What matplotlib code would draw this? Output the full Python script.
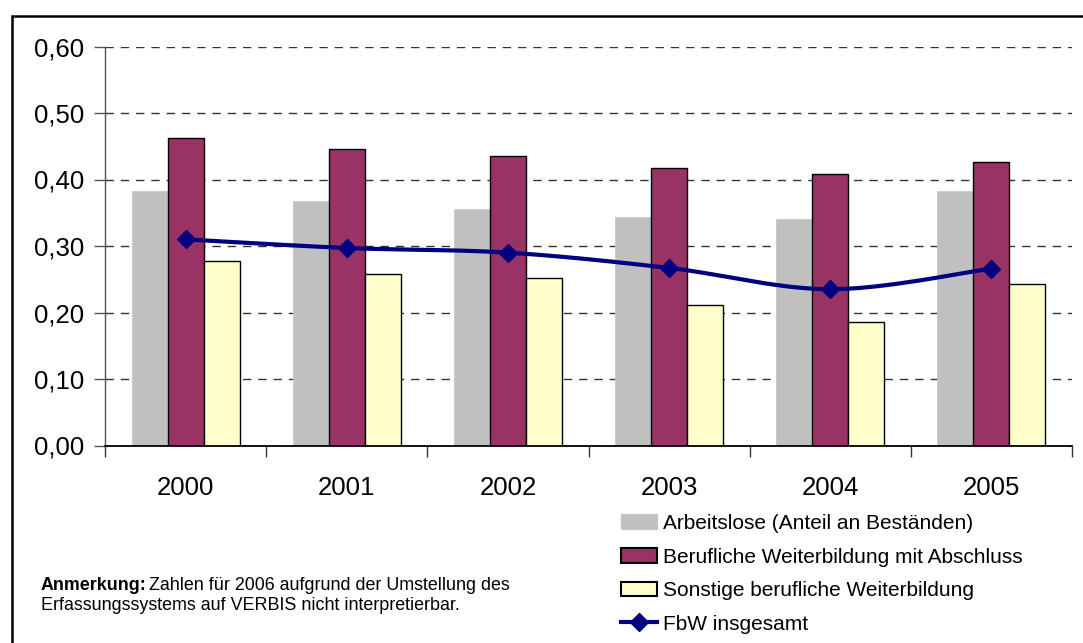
import numpy as np
import matplotlib
matplotlib.use('Agg')
import matplotlib.pyplot as plt
from matplotlib.patches import Rectangle, Patch
from matplotlib.lines import Line2D

plt.rcParams['font.family'] = ['Liberation Sans', 'DejaVu Sans']

years = ['2000', '2001', '2002', '2003', '2004', '2005']
arbeitslose = [0.383, 0.367, 0.355, 0.343, 0.340, 0.382]
mit_abschluss = [0.462, 0.446, 0.436, 0.418, 0.409, 0.426]
sonstige = [0.277, 0.258, 0.252, 0.211, 0.185, 0.243]
fbw_insgesamt = [0.310, 0.297, 0.290, 0.267, 0.235, 0.266]
yticks = [0.0, 0.1, 0.2, 0.3, 0.4, 0.5, 0.6]
legend_labels = ['Arbeitslose (Anteil an Beständen)',
                 'Berufliche Weiterbildung mit Abschluss',
                 'Sonstige berufliche Weiterbildung',
                 'FbW insgesamt']

W, H = 1083, 643
fig = plt.figure(figsize=(W / 100, H / 100), dpi=100)
ax = fig.add_axes([105 / W, 1 - 445.5 / H, (1072 - 105) / W, (445.5 - 46.5) / H])

x = np.arange(len(years))
bw = 36 / 161.2
ax.bar(x - bw, arbeitslose, bw, color='#C0C0C0', edgecolor='#C8C8C8', linewidth=0.6, zorder=2)
ax.bar(x, mit_abschluss, bw, color='#993366', edgecolor='black', linewidth=1.0, zorder=2)
ax.bar(x + bw, sonstige, bw, color='#FFFFCC', edgecolor='black', linewidth=1.0, zorder=2)


def smooth(xs, ys, n=30):
    xs = np.asarray(xs, float)
    ys = np.asarray(ys, float)
    px = np.concatenate([[xs[0]], xs, [xs[-1]]])
    py = np.concatenate([[ys[0]], ys, [ys[-1]]])
    outx, outy = [], []
    t = np.linspace(0, 1, n)
    for i in range(1, len(px) - 2):
        p0, p1, p2, p3 = (np.array([px[j], py[j]]) for j in (i - 1, i, i + 1, i + 2))
        c1 = p1 + (p2 - p0) / 6
        c2 = p2 - (p3 - p1) / 6
        pts = ((1 - t) ** 3)[:, None] * p1 + (3 * (1 - t) ** 2 * t)[:, None] * c1 + \
              (3 * (1 - t) * t ** 2)[:, None] * c2 + (t ** 3)[:, None] * p2
        outx.extend(pts[:, 0])
        outy.extend(pts[:, 1])
    return outx, outy


sx, sy = smooth(x, fbw_insgesamt)
ax.plot(sx, sy, color='#000080', lw=3.0, zorder=3, solid_capstyle='round')
ax.plot(x, fbw_insgesamt, linestyle='none', marker='D', ms=9.5, color='#000080', zorder=4)

ax.set_xlim(-0.5, len(years) - 0.5)
ax.set_ylim(0, 0.6)
ax.set_yticks(yticks)
ax.set_yticklabels([f'{v:.2f}'.replace('.', ',') for v in yticks])
ax.set_xticks(np.arange(-0.5, len(years), 1.0))
ax.set_xticklabels([])
ax.set_xticks(x, minor=True)
ax.set_xticklabels(years, minor=True)
ax.tick_params(axis='x', which='minor', length=0, pad=22, labelsize=18.5)
ax.tick_params(axis='x', which='major', length=8, width=1, color='#333333')
ax.tick_params(axis='y', length=8, width=1, color='#555555', labelsize=18.5, pad=7)

for s in ('top', 'right'):
    ax.spines[s].set_visible(False)
ax.spines['left'].set_color('#555555')
ax.spines['left'].set_linewidth(1.0)
ax.spines['bottom'].set_color('black')
ax.spines['bottom'].set_linewidth(1.3)

ax.yaxis.grid(True, color='#333333', linewidth=1.0, linestyle=(0, (6, 5)), zorder=1)
ax.set_axisbelow(True)

handles = [Patch(facecolor='#C0C0C0', edgecolor='#C8C8C8'),
           Patch(facecolor='#993366', edgecolor='black', linewidth=1.5),
           Patch(facecolor='#FFFFCC', edgecolor='black', linewidth=1.5),
           Line2D([], [], color='#000080', lw=3.0, marker='D', ms=9.5)]
fs = 15
fig.legend(handles, legend_labels, loc='upper left',
           bbox_to_anchor=(621 / W, 1 - 514 / H), frameon=False, fontsize=fs,
           borderpad=0, borderaxespad=0, handlelength=1.75, handleheight=0.7,
           handletextpad=0.25, labelspacing=0.70)

r = fig.canvas.get_renderer()
afs = 12.9
t1 = fig.text(41 / W, 1 - 586 / H, 'Anmerkung:', fontsize=afs, weight='bold', va='center')
bb = t1.get_window_extent(renderer=r)
fig.text((bb.x1 - 3) / W, 1 - 586 / H, ' Zahlen für 2006 aufgrund der Umstellung des', fontsize=afs, va='center')
fig.text(41 / W, 1 - 605 / H, 'Erfassungssystems auf VERBIS nicht interpretierbar.', fontsize=afs, va='center')

fig.patches.append(Rectangle((12 / W, 1 - 660 / H), (1100 - 12) / W, (660 - 16) / H,
                             transform=fig.transFigure, fill=False, lw=1.8, edgecolor='black'))

fig.savefig('out.png', dpi=100)
